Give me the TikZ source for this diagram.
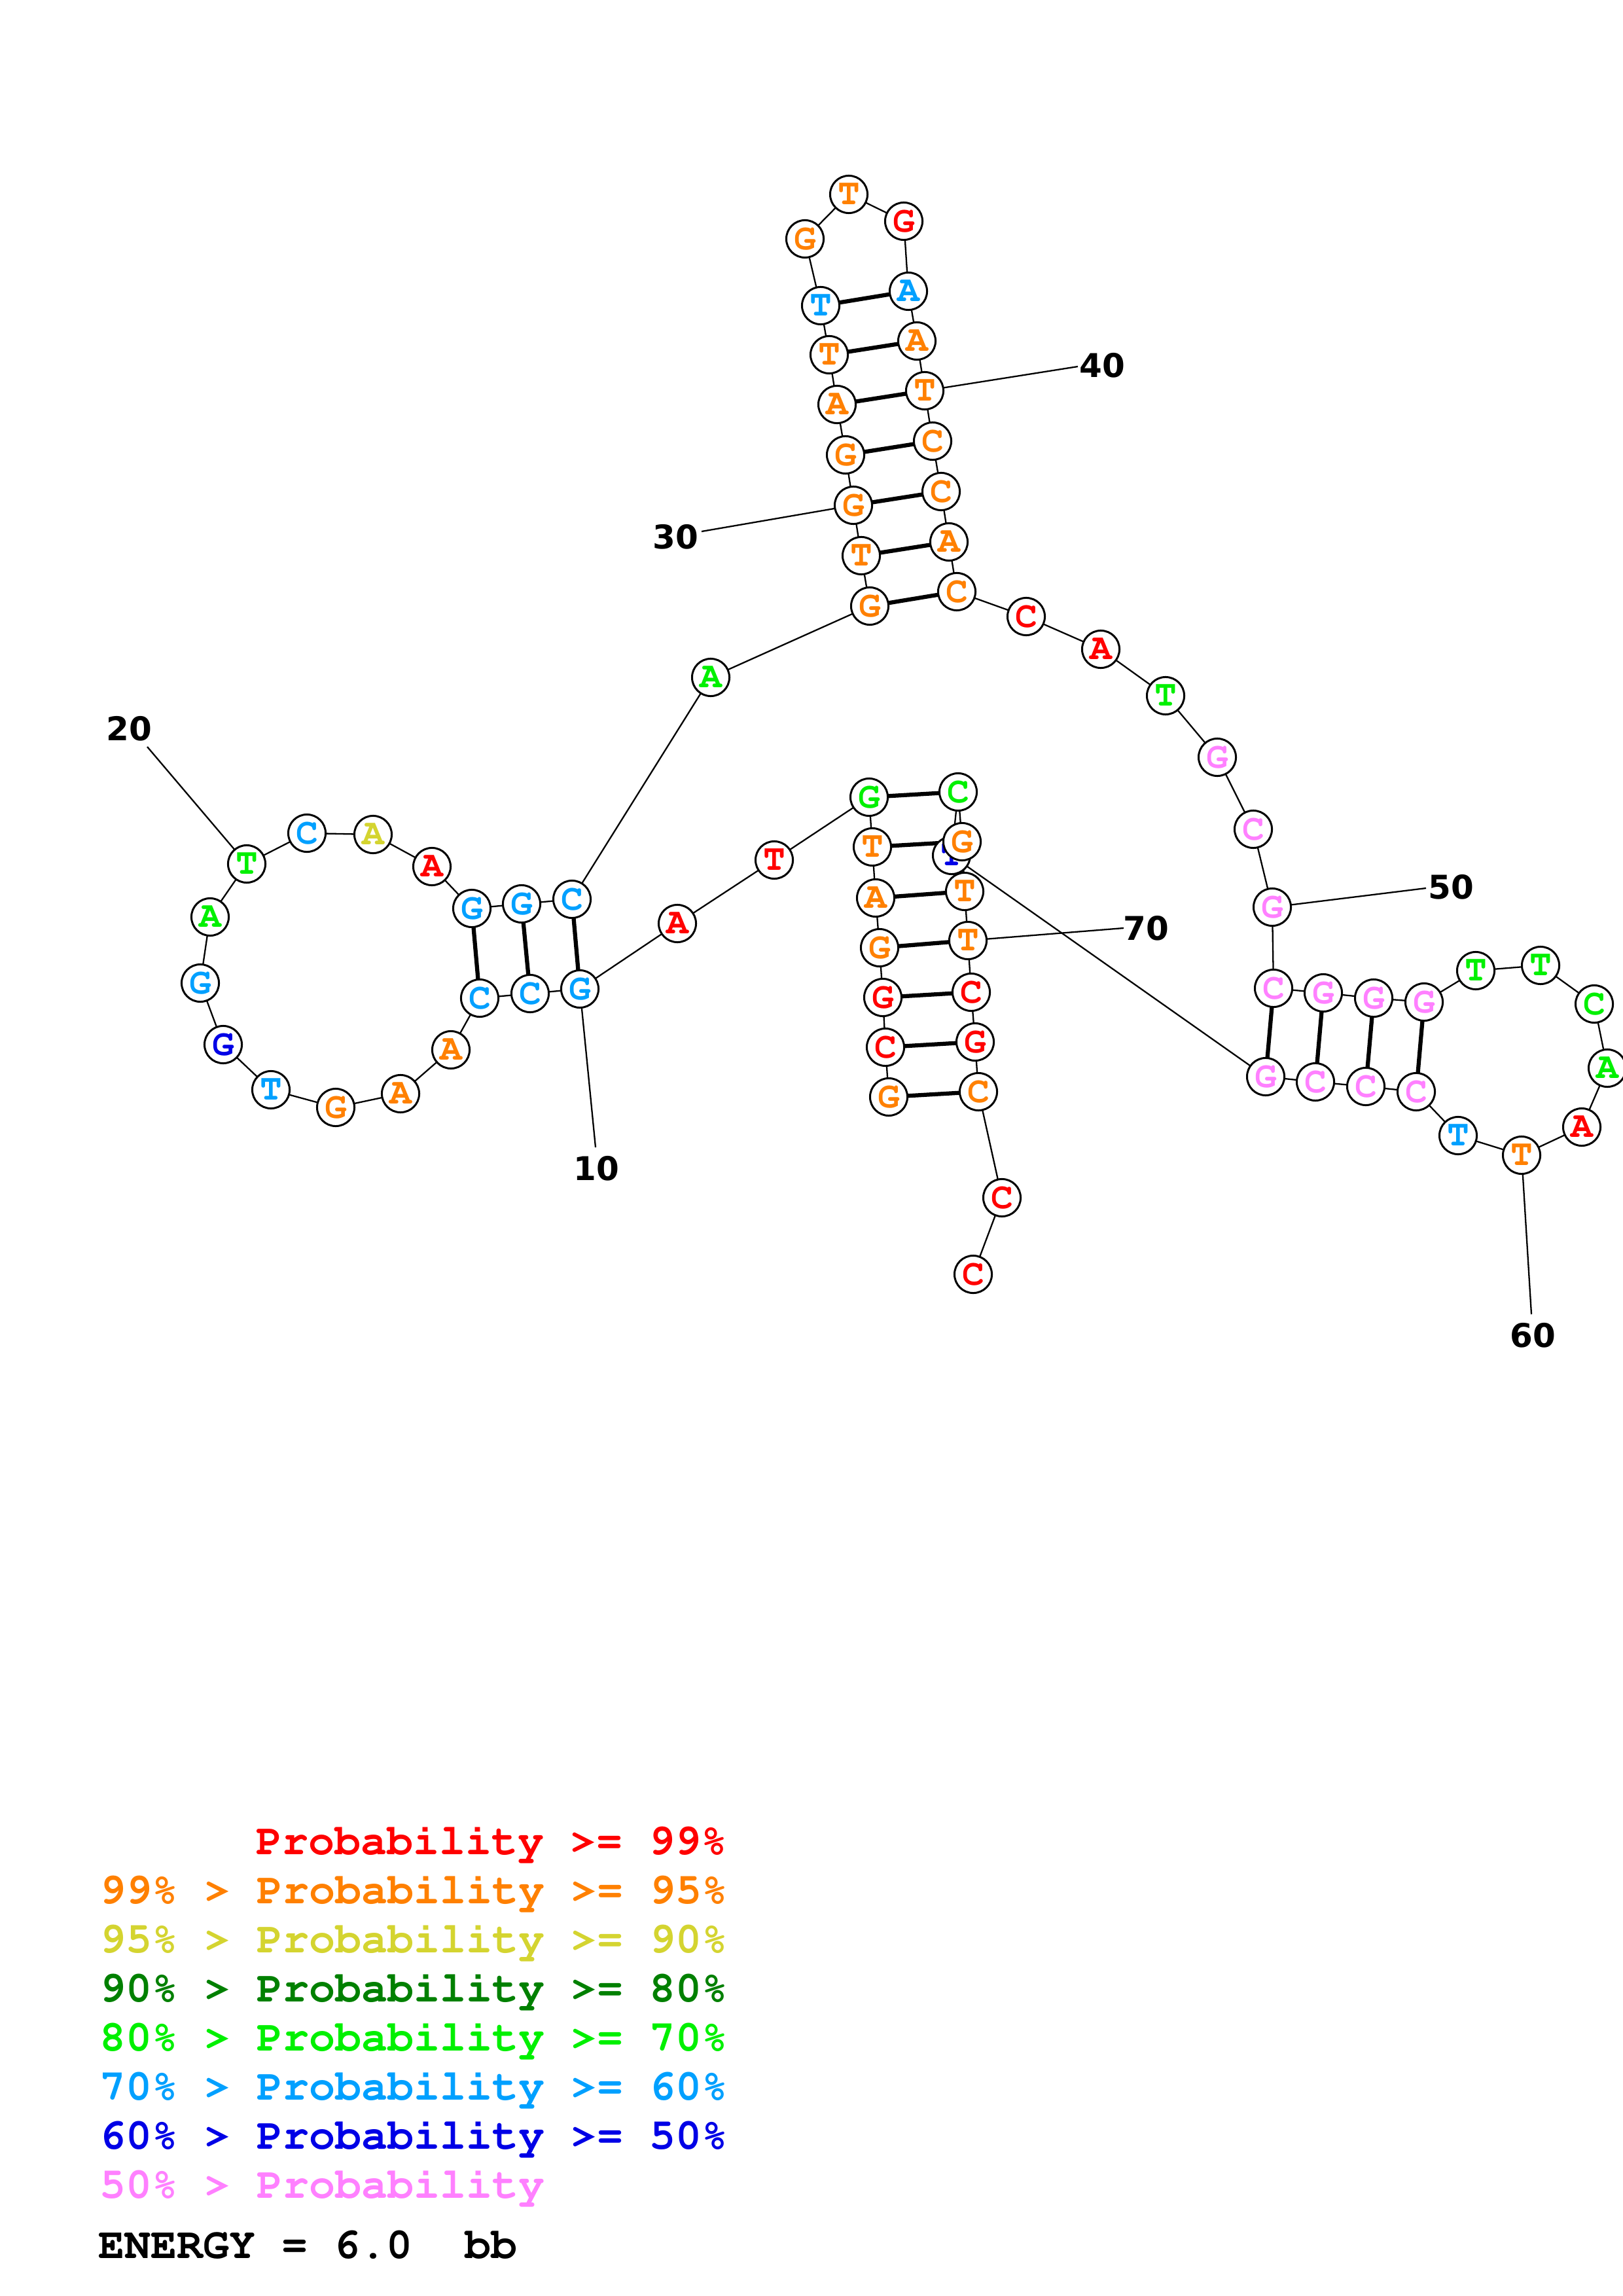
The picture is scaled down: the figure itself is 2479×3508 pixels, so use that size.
\documentclass[tikz,border=0pt]{standalone}
\usepackage[T1]{fontenc}
\usepackage{fontspec}
\setmonofont{Liberation Mono}
\newfontfamily\labfont{DejaVu Sans}
\newcommand{\courb}{\fontencoding{T1}\fontfamily{pcr}\fontseries{b}\selectfont}
\usetikzlibrary{backgrounds}
\definecolor{cR}{RGB}{255,0,0}
\definecolor{cO}{RGB}{255,128,0}
\definecolor{cY}{RGB}{212,212,48}
\definecolor{cDG}{RGB}{0,128,0}
\definecolor{cG}{RGB}{0,240,0}
\definecolor{cLB}{RGB}{0,160,255}
\definecolor{cB}{RGB}{0,0,230}
\definecolor{cP}{RGB}{255,128,255}
\tikzset{
  nt/.style={circle, draw=black, fill=white, line width=0.72pt, minimum size=13.7pt, inner sep=0pt,
    font=\courb\fontsize{13.5}{13.5}\selectfont},
  bbone/.style={line width=0.55pt, black},
  bpair/.style={line width=1.5pt, black},
  numlab/.style={inner sep=0pt, font=\labfont\bfseries\fontsize{12}{12}\selectfont},
  leg/.style={anchor=base west, inner sep=0pt, font=\courb\fontsize{16}{16}\selectfont},
}
\begin{document}
\begin{tikzpicture}[x=0.24pt, y=-0.24pt]
\useasboundingbox (0,0) rectangle (2479,3508);
% nucleotides
\foreach \i/\x/\y/\b/\c in {
 1/1358/1676/G/cO, 2/1353/1600/C/cR, 3/1349/1524/G/cR, 4/1344/1448/G/cO, 5/1338/1372/A/cO,
 6/1333/1294/T/cO, 7/1328/1218/G/cG, 8/1183/1314/T/cR, 9/1035/1411/A/cR, 10/886/1511/G/cLB,
 11/810/1518/C/cLB, 12/733/1525/C/cLB, 13/689/1604/A/cO, 14/612/1671/A/cO, 15/513/1692/G/cO,
 16/414/1665/T/cLB, 17/341/1596/G/cB, 18/306/1502/G/cLB, 19/321/1401/A/cG, 20/377/1320/T/cG,
 21/469/1273/C/cLB, 22/570/1275/A/cY, 23/660/1324/A/cR, 24/721/1388/G/cLB, 25/797/1381/G/cLB,
 26/874/1374/C/cLB, 27/1086/1035/A/cG, 28/1329/926/G/cO, 29/1316/849/T/cO, 30/1304/772/G/cO,
 31/1292/695/G/cO, 32/1279/618/A/cO, 33/1267/542/T/cO, 34/1254/467/T/cLB, 35/1230/365/G/cO,
 36/1297/297/T/cO, 37/1381/338/G/cR, 38/1388/445/A/cLB, 39/1401/521/A/cO, 40/1413/597/T/cO,
 41/1425/674/C/cO, 42/1438/751/C/cO, 43/1450/828/A/cO, 44/1462/904/C/cO, 45/1568/942/C/cR,
 46/1682/992/A/cR, 47/1781/1063/T/cG, 48/1860/1157/G/cP, 49/1915/1267/C/cP, 50/1944/1386/G/cP,
 51/1946/1510/C/cP, 52/2022/1517/G/cP, 53/2099/1525/G/cP, 54/2176/1531/G/cP, 55/2255/1483/T/cG,
 56/2354/1475/T/cG, 57/2436/1534/C/cG, 58/2456/1632/A/cG, 59/2417/1722/A/cR, 60/2325/1765/T/cO,
 61/2228/1735/T/cLB, 62/2164/1668/C/cP, 63/2087/1660/C/cP, 64/2010/1653/C/cP, 65/1934/1645/G/cP,
 66/1454/1307/T/cB, 67/1464/1210/C/cG, 68/1470/1286/G/cO, 69/1474/1362/T/cO, 70/1479/1437/T/cO,
 71/1484/1516/C/cR, 72/1490/1592/G/cR, 73/1495/1668/C/cO, 74/1531/1830/C/cR, 75/1487/1947/C/cR}
 { \node[nt, text=\c] (n\i) at (\x,\y) {\b}; }
% number labels
\node[numlab] (l10) at (911,1785) {10};
\node[numlab] (l20) at (197,1113) {20};
\node[numlab] (l30) at (1032,820) {30};
\node[numlab] (l40) at (1684,558) {40};
\node[numlab] (l50) at (2217,1355) {50};
\node[numlab] (l60) at (2342,2040) {60};
\node[numlab] (l70) at (1751,1418) {70};
\coordinate (e10) at (910,1753);
\coordinate (e20) at (225,1141);
\coordinate (e30) at (1072,812);
\coordinate (e40) at (1647,560);
\coordinate (e50) at (2179,1357);
\coordinate (e60) at (2340,2008);
\coordinate (e70) at (1717,1418);
% legend
\node[leg, text=cR]  (g1) at (391,2833) {Probability >= 99\%};
\node[leg, text=cO]  (g2) at (152,2908) {99\% > Probability >= 95\%};
\node[leg, text=cY]  (g3) at (152,2983) {95\% > Probability >= 90\%};
\node[leg, text=cDG] (g4) at (152,3058) {90\% > Probability >= 80\%};
\node[leg, text=cG]  (g5) at (152,3133) {80\% > Probability >= 70\%};
\node[leg, text=cLB] (g6) at (152,3208) {70\% > Probability >= 60\%};
\node[leg, text=cB]  (g7) at (152,3283) {60\% > Probability >= 50\%};
\node[leg, text=cP]  (g8) at (152,3358) {50\% > Probability};
\node[leg, text=black] (en) at (150,3450) {ENERGY = 6.0~~bb};
\begin{scope}[on background layer]
  \fill[white] (0,0) rectangle (2479,3508);
  \foreach \i [count=\j from 2] in {1,...,74} { \draw[bbone] (n\i.center) -- (n\j.center); }
  \foreach \a/\b in {1/73,2/72,3/71,4/70,5/69,6/68,7/67,10/26,11/25,12/24,
                     28/44,29/43,30/42,31/41,32/40,33/39,34/38,51/65,52/64,53/63,54/62}
    { \draw[bpair] (n\a.center) -- (n\b.center); }
  \foreach \k in {10,20,30,40,50,60,70} { \draw[bbone] (n\k.center) -- (e\k); }
\end{scope}
\end{tikzpicture}
\end{document}
